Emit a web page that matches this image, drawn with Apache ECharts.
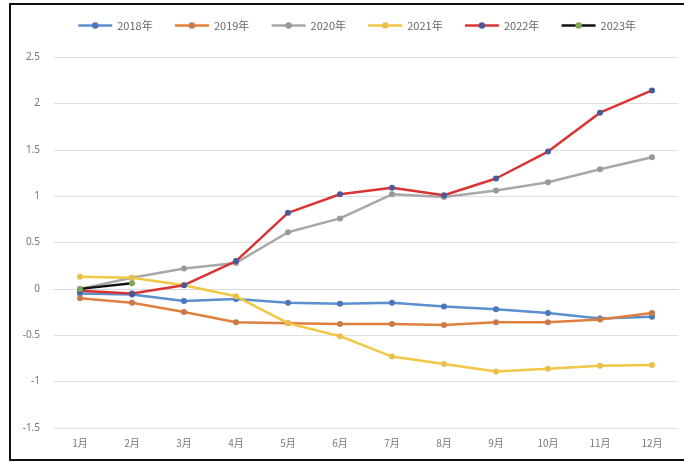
<!DOCTYPE html>
<html><head><meta charset="utf-8">
<script src="https://cdn.jsdelivr.net/npm/echarts@6/dist/echarts.min.js"></script>
<style>html,body{margin:0;padding:0;background:#fff}#c{width:684px;height:463px}</style>
</head><body><div id="c"></div>
<script>
var months = ['1月','2月','3月','4月','5月','6月','7月','8月','9月','10月','11月','12月'];
var yTicks = [-1.5, 2.5, 0.5];
var s2018 = [-0.05, -0.06, -0.13, -0.11, -0.15, -0.16, -0.15, -0.19, -0.22, -0.26, -0.32, -0.30];
var s2019 = [-0.10, -0.15, -0.25, -0.36, -0.37, -0.38, -0.38, -0.39, -0.36, -0.36, -0.33, -0.26];
var s2020 = [0.00, 0.12, 0.22, 0.28, 0.61, 0.76, 1.02, 0.99, 1.06, 1.15, 1.29, 1.42];
var s2021 = [0.13, 0.12, 0.04, -0.08, -0.37, -0.51, -0.73, -0.81, -0.89, -0.86, -0.83, -0.82];
var s2022 = [-0.02, -0.05, 0.04, 0.30, 0.82, 1.02, 1.09, 1.01, 1.19, 1.48, 1.90, 2.14];
var s2023 = [0.00, 0.06];
var names = ['2018年','2019年','2020年','2021年','2022年','2023年'];

var styles = [
  {line:'#5b8fd0', mark:'#4a77b8'},
  {line:'#e08040', mark:'#c87a4a'},
  {line:'#a8a8a8', mark:'#999999'},
  {line:'#f2c744', mark:'#e8c050'},
  {line:'#d93434', mark:'#4a5a9a'},
  {line:'#111111', mark:'#7aaa55'}
];
var data = [s2018, s2019, s2020, s2021, s2022, s2023];
var series = data.map(function(d, i){
  return {
    name: names[i], type: 'line', data: d,
    symbol: 'circle', symbolSize: 6,
    lineStyle: {color: styles[i].line, width: 2.5},
    itemStyle: {color: styles[i].mark, borderWidth: 0},
    z: 2 + i
  };
});
var chart = echarts.init(document.getElementById('c'));
chart.setOption({
  animation: false,
  backgroundColor: '#fff',
  graphic: [{type:'rect', shape:{x:10, y:4, width:690, height:456}, style:{fill:'none', stroke:'#111', lineWidth:2}, z:100}],
  legend: {
    top: 15, left: 72, itemGap: 21, itemWidth: 34, itemHeight: 8,
    textStyle: {color:'#666', fontSize: 11, fontFamily: 'Noto Sans CJK SC'},
    data: names.map(function(n, i){ return {name:n, itemStyle:{color: styles[i].mark}, lineStyle:{color: styles[i].line, width: 2.5}}; })
  },
  grid: {left: 54, right: 6, top: 57, bottom: 35},
  xAxis: {
    type: 'category', data: months, boundaryGap: true,
    axisLine: {show: true, lineStyle: {color: '#d9d9d9'}},
    axisTick: {show: false},
    axisLabel: {color: '#777', fontSize: 10, margin: 10, fontFamily: 'Noto Sans CJK SC'}
  },
  yAxis: {
    type: 'value', min: yTicks[0], max: yTicks[1], interval: yTicks[2],
    axisLine: {show: false}, axisTick: {show: false},
    splitLine: {lineStyle: {color: '#e0e0e0', width: 1}},
    axisLabel: {color: '#777', fontSize: 10, margin: 14, fontFamily: 'Noto Sans'}
  },
  series: series
});
</script></body></html>
